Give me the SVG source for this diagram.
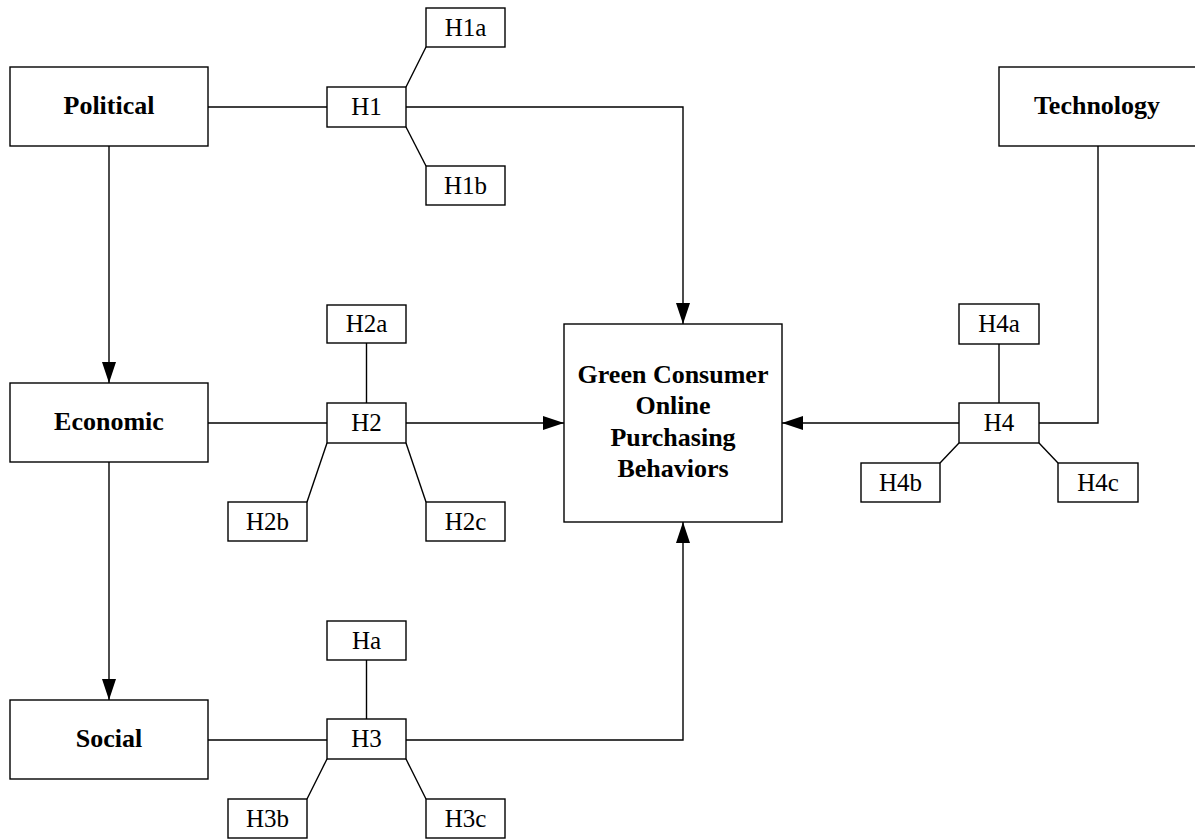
<svg xmlns="http://www.w3.org/2000/svg" width="1195" height="839" viewBox="0 0 1195 839">
<style>
rect{fill:#fff;stroke:#000;stroke-width:1.4}
.c{fill:none;stroke:#000;stroke-width:1.4}
text{font-family:"Liberation Serif","Times New Roman",serif;font-size:25px;text-anchor:middle;fill:#000}
.b{font-weight:bold;font-size:26px}
</style>
<defs>
<marker id="ah" markerUnits="userSpaceOnUse" markerWidth="21" markerHeight="14" refX="21" refY="7" orient="auto">
<path d="M0,0 L21,7 L0,14 z" fill="#000"/>
</marker>
</defs>
<rect x="0" y="0" width="1195" height="839" style="stroke:none"/>
<g id="connectors">
<path class="c" d="M208,107 H327"/>
<path class="c" d="M406,87 L426,47"/>
<path class="c" d="M406,127 L426,166"/>
<path class="c" d="M406,107 H683 V324" marker-end="url(#ah)"/>
<path class="c" d="M109,146 V383" marker-end="url(#ah)"/>
<path class="c" d="M208,423 H327"/>
<path class="c" d="M366.5,343 V403"/>
<path class="c" d="M327,443 L307,502"/>
<path class="c" d="M406,443 L426,502"/>
<path class="c" d="M406,423 H564" marker-end="url(#ah)"/>
<path class="c" d="M109,462 V700" marker-end="url(#ah)"/>
<path class="c" d="M208,740 H327"/>
<path class="c" d="M366.5,660 V719"/>
<path class="c" d="M327,759 L307,799"/>
<path class="c" d="M406,759 L426,799"/>
<path class="c" d="M406,740 H683 V522" marker-end="url(#ah)"/>
<path class="c" d="M1098,146 V423 H1039"/>
<path class="c" d="M999,344 V403"/>
<path class="c" d="M959,443 L940,463"/>
<path class="c" d="M1039,443 L1058,463"/>
<path class="c" d="M959,423 H782" marker-end="url(#ah)"/>
</g>
<g id="political"><rect x="10" y="67" width="198" height="79"/><text class="b" x="109" y="114">Political</text></g>
<g id="economic"><rect x="10" y="383" width="198" height="79"/><text class="b" x="109" y="430">Economic</text></g>
<g id="social"><rect x="10" y="700" width="198" height="79"/><text class="b" x="109" y="747">Social</text></g>
<g id="technology"><rect x="999" y="67" width="198" height="79"/><text class="b" x="1097" y="114">Technology</text></g>
<g id="main"><rect x="564" y="324" width="218" height="198"/>
<text class="b" x="673" y="383">Green Consumer</text>
<text class="b" x="673" y="414">Online</text>
<text class="b" x="673" y="446">Purchasing</text>
<text class="b" x="673" y="477">Behaviors</text></g>
<g id="h1"><rect x="327" y="87" width="79" height="40"/><text x="366.5" y="115">H1</text></g>
<g id="h1a"><rect x="426" y="8" width="79" height="39"/><text x="465.5" y="36">H1a</text></g>
<g id="h1b"><rect x="426" y="166" width="79" height="39"/><text x="465.5" y="194">H1b</text></g>
<g id="h2"><rect x="327" y="403" width="79" height="40"/><text x="366.5" y="431">H2</text></g>
<g id="h2a"><rect x="327" y="305" width="79" height="38"/><text x="366.5" y="332">H2a</text></g>
<g id="h2b"><rect x="228" y="502" width="79" height="39"/><text x="267.5" y="530">H2b</text></g>
<g id="h2c"><rect x="426" y="502" width="79" height="39"/><text x="465.5" y="530">H2c</text></g>
<g id="h3"><rect x="327" y="719" width="79" height="40"/><text x="366.5" y="747">H3</text></g>
<g id="ha"><rect x="327" y="621" width="79" height="39"/><text x="366.5" y="649">Ha</text></g>
<g id="h3b"><rect x="228" y="799" width="79" height="39"/><text x="267.5" y="827">H3b</text></g>
<g id="h3c"><rect x="426" y="799" width="79" height="39"/><text x="465.5" y="827">H3c</text></g>
<g id="h4"><rect x="959" y="403" width="80" height="40"/><text x="999" y="431">H4</text></g>
<g id="h4a"><rect x="959" y="304" width="80" height="40"/><text x="999" y="332">H4a</text></g>
<g id="h4b"><rect x="861" y="463" width="79" height="39"/><text x="900.5" y="491">H4b</text></g>
<g id="h4c"><rect x="1058" y="463" width="80" height="39"/><text x="1098" y="491">H4c</text></g>
</svg>
